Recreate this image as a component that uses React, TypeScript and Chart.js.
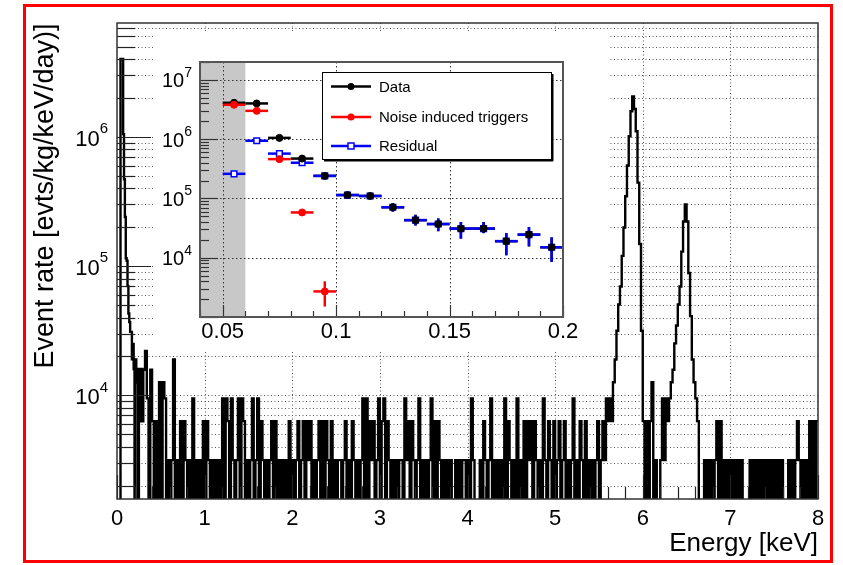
import React, { useEffect, useRef } from 'react';
import { Chart, registerables } from 'chart.js';

Chart.register(...registerables);

const FONT = '"Liberation Sans", Arial, Helvetica, sans-serif';

// ---------------- main spectrum ----------------
const X_MIN = 0;
const X_MAX = 8;
const Y_MIN = 1580;
const Y_MAX = 7.6e6;
const xTickLabels = ['0', '1', '2', '3', '4', '5', '6', '7', '8'];
const yTickExponents = [4, 5, 6];
const xAxisTitle = 'Energy [keV]';
const yAxisTitle = 'Event rate [evts/kg/keV/day)]';

// 0.00 - 0.30 keV, 0.01 keV bins (event rate)
const LOW_BIN_WIDTH = 0.01;
const lowEnergyRates = [
  0, 0, 0, 0, 4.0e6, 4.0e6, 4.0e6, 1.05e6, 4.7e5, 2.4e5,
  1.15e5, 1.1e5, 7.0e4, 4.3e4, 3.7e4, 3.1e4, 3.1e4, 1.9e4, 2.5e4, 1.6e4,
  0, 1.9e4, 1.26e4, 1.6e4, 0, 1.26e4, 1.6e4, 6.3e3, 1.6e4, 6.3e3,
];

// 0.30 - 8.00 keV, 0.02 keV bins (counts; one count = RATE_PER_COUNT)
const SPEC_START = 0.3;
const SPEC_BIN_WIDTH = 0.02;
const RATE_PER_COUNT = 3160;
const EMPTY_BIN = 100; // empty bins fall below the axis floor
const spectrumCounts = [
  5, 7, 3, 0, 5, 2, 0, 2, 0, 4, // 0.30
  0, 4, 3, 0, 1, 0, 1, 6, 0, 1, // 0.50
  0, 2, 0, 2, 1, 0, 1, 0, 3, 0, // 0.70
  1, 0, 1, 0, 2, 0, 2, 1, 0, 1, // 0.90
  0, 1, 0, 1, 0, 3, 0, 3, 2, 0, // 1.10
  3, 1, 0, 1, 3, 0, 3, 2, 0, 1, // 1.30
  0, 1, 3, 0, 1, 3, 0, 2, 1, 0, // 1.50
  1, 0, 1, 2, 0, 2, 0, 1, 0, 1, // 1.70
  0, 1, 0, 2, 0, 1, 0, 1, 2, 0, // 1.90
  1, 2, 0, 2, 1, 2, 0, 1, 0, 1, // 2.10
  2, 0, 2, 0, 2, 1, 0, 2, 0, 1, // 2.30
  0, 1, 1, 0, 1, 2, 0, 1, 0, 2, // 2.50
  1, 0, 1, 0, 1, 3, 0, 3, 0, 2, // 2.70
  1, 2, 0, 1, 3, 0, 2, 3, 0, 2, // 2.90
  1, 0, 1, 0, 1, 0, 1, 1, 0, 3, // 3.10
  1, 2, 0, 2, 1, 0, 1, 3, 0, 1, // 3.30
  0, 1, 0, 1, 3, 0, 2, 0, 2, 1, // 3.50
  0, 1, 0, 1, 0, 1, 0, 0, 1, 0, // 3.70
  1, 0, 1, 1, 0, 1, 0, 3, 1, 0, // 3.90
  0, 0, 1, 0, 2, 1, 0, 1, 3, 0, // 4.10
  1, 0, 1, 0, 1, 0, 3, 0, 2, 1, // 4.30
  0, 1, 0, 3, 0, 1, 0, 2, 0, 2, // 4.50
  1, 2, 0, 2, 1, 0, 1, 0, 3, 1, // 4.70
  0, 2, 1, 0, 2, 0, 1, 2, 0, 1, // 4.90
  2, 0, 1, 0, 1, 3, 0, 1, 0, 2, // 5.10
  1, 0, 2, 0, 1, 0, 1, 0, 1, 2, // 5.30
  0, 1, 2, 1, 3, 2, 3, 2, 4, 6, // 5.50
  10, 16, 22, 38, 63, 110, 190, 320, 500, 650, // 5.70
  520, 350, 140, 47, 10, 2, 0, 2, 0, 2, // 5.90
  4, 0, 1, 0, 0, 1, 3, 1, 3, 2, // 6.10
  3, 4, 5, 8, 11, 16, 22, 41, 70, 95, // 6.30
  70, 28, 13, 6, 4, 3, 2, 0, 0, 0, // 6.50
  1, 0, 1, 0, 1, 0, 1, 2, 0, 2, // 6.70
  0, 1, 0, 1, 0, 1, 0, 1, 0, 1, // 6.90
  0, 1, 0, 0, 0, 0, 1, 0, 1, 0, // 7.10
  1, 0, 1, 0, 1, 0, 1, 0, 1, 0, // 7.30
  1, 0, 1, 0, 1, 0, 0, 0, 1, 0, // 7.50
  1, 0, 1, 2, 1, 0, 1, 0, 1, 0, // 7.70
  2, 0, 2, 0, 2, // 7.90
];

// ---------------- inset ----------------
const INSET_X_MIN = 0.04;
const INSET_X_MAX = 0.2;
const INSET_Y_MIN = 1e3;
const INSET_Y_MAX = 2e7;
const insetXTickLabels = ['0.05', '0.1', '0.15', '0.2'];
const insetYTickExponents = [4, 5, 6, 7];
const thresholdBand = [0.04, 0.06];
const BIN_HALF_WIDTH = 0.005;

const dataEnergy = [0.055, 0.065, 0.075, 0.085, 0.095, 0.105, 0.115, 0.125, 0.135, 0.145, 0.155, 0.165, 0.175, 0.185, 0.195];
const dataRate = [4.1e6, 4.0e6, 1.05e6, 4.7e5, 2.4e5, 1.14e5, 1.1e5, 7.1e4, 4.3e4, 3.7e4, 3.1e4, 3.1e4, 1.9e4, 2.45e4, 1.5e4];
const dataLow = [4.0e6, 3.9e6, 1.0e6, 4.5e5, 2.25e5, 1.05e5, 1.0e5, 6.0e4, 3.5e4, 2.8e4, 2.1e4, 2.6e4, 1.1e4, 1.55e4, 8.5e3];
const dataHigh = [4.2e6, 4.1e6, 1.1e6, 4.9e5, 2.55e5, 1.23e5, 1.2e5, 8.3e4, 5.3e4, 4.6e4, 4.0e4, 4.0e4, 2.6e4, 3.3e4, 2.2e4];

const noiseEnergy = [0.055, 0.065, 0.075, 0.085, 0.095];
const noiseRate = [3.8e6, 3.0e6, 4.6e5, 5.8e4, 2.7e3];
const noiseLow = [3.7e6, 2.9e6, 4.4e5, 5.4e4, 1.5e3];
const noiseHigh = [3.9e6, 3.1e6, 4.8e5, 6.2e4, 4.0e3];

const residualEnergy = dataEnergy;
const residualRate = [2.6e5, 9.4e5, 5.7e5, 4.0e5, 2.4e5, 1.14e5, 1.1e5, 7.1e4, 4.3e4, 3.7e4, 3.1e4, 3.1e4, 1.9e4, 2.45e4, 1.5e4];
const residualLow = [2.4e5, 8.9e5, 5.3e5, 3.7e5, 2.25e5, 1.05e5, 1.0e5, 6.0e4, 3.5e4, 2.8e4, 2.1e4, 2.6e4, 1.1e4, 1.55e4, 8.5e3];
const residualHigh = [2.8e5, 1.0e6, 6.1e5, 4.3e5, 2.55e5, 1.23e5, 1.2e5, 8.3e4, 5.3e4, 4.6e4, 4.0e4, 4.0e4, 2.6e4, 3.3e4, 2.2e4];

const legendLabels = ['Data', 'Noise induced triggers', 'Residual'];
const COLORS = { data: '#000000', noise: '#ff0000', residual: '#0000ff' };

// ---------------- helpers ----------------
function line(ctx: CanvasRenderingContext2D, x1: number, y1: number, x2: number, y2: number) {
  ctx.beginPath();
  ctx.moveTo(x1, y1);
  ctx.lineTo(x2, y2);
  ctx.stroke();
}

function drawPow10(ctx: CanvasRenderingContext2D, exp: number, right: number, y: number, base: number, sup: number, dyBase: number, dySup: number) {
  ctx.save();
  ctx.fillStyle = '#000';
  ctx.textBaseline = 'middle';
  ctx.textAlign = 'left';
  ctx.font = `${sup}px ${FONT}`;
  const es = String(exp);
  const w2 = ctx.measureText(es).width;
  ctx.font = `${base}px ${FONT}`;
  const w1 = ctx.measureText('10').width;
  ctx.fillText('10', right - w2 - w1, y + dyBase);
  ctx.font = `${sup}px ${FONT}`;
  ctx.fillText(es, right - w2, y + dySup);
  ctx.restore();
}

function buildHistogram() {
  const pts: { x: number; y: number }[] = [];
  lowEnergyRates.forEach((r, i) => pts.push({ x: i * LOW_BIN_WIDTH, y: r > 0 ? r : EMPTY_BIN }));
  spectrumCounts.forEach((c, i) => pts.push({ x: SPEC_START + i * SPEC_BIN_WIDTH, y: c > 0 ? c * RATE_PER_COUNT : EMPTY_BIN }));
  const last = spectrumCounts[spectrumCounts.length - 1];
  pts.push({ x: X_MAX, y: last > 0 ? last * RATE_PER_COUNT : EMPTY_BIN });
  return pts;
}

const mainDecor = {
  id: 'mainDecor',
  beforeDraw(chart: any) {
    const { ctx, width, height } = chart;
    ctx.save();
    ctx.fillStyle = '#fff';
    ctx.fillRect(0, 0, width, height);
    ctx.restore();
  },
  beforeDatasetsDraw(chart: any) {
    const { ctx, chartArea: a, scales } = chart;
    const xs = scales.x, ys = scales.y;
    ctx.save();
    ctx.strokeStyle = '#555';
    ctx.lineWidth = 1;
    ctx.setLineDash([1, 2.5]);
    for (let e = 3; e <= 6; e++) {
      for (let k = 1; k <= 9; k++) {
        const v = k * Math.pow(10, e);
        if (v < Y_MIN || v > Y_MAX) continue;
        const py = Math.round(ys.getPixelForValue(v)) + 0.5;
        line(ctx, a.left, py, a.right, py);
      }
    }
    xTickLabels.forEach((l) => {
      const v = parseFloat(l);
      if (v <= X_MIN || v >= X_MAX) return;
      const px = Math.round(xs.getPixelForValue(v)) + 0.5;
      line(ctx, px, a.top, px, a.bottom);
    });
    ctx.restore();
  },
  afterDatasetsDraw(chart: any) {
    const { ctx, chartArea: a, scales } = chart;
    const xs = scales.x, ys = scales.y;
    ctx.save();
    ctx.strokeStyle = '#222';
    ctx.lineWidth = 1.2;
    for (let e = 3; e <= 6; e++) {
      for (let k = 1; k <= 9; k++) {
        const v = k * Math.pow(10, e);
        if (v < Y_MIN || v > Y_MAX) continue;
        const py = Math.round(ys.getPixelForValue(v)) + 0.5;
        line(ctx, a.left, py, a.left + (k === 1 ? 34 : 18), py);
      }
    }
    for (let i = 0; i <= 40; i++) {
      const v = i * 0.2;
      const px = Math.round(xs.getPixelForValue(v)) + 0.5;
      const major = i % 5 === 0;
      line(ctx, px, a.bottom, px, a.bottom - (major ? 24 : 12));
    }
    ctx.strokeStyle = '#333';
    ctx.lineWidth = 1.5;
    ctx.strokeRect(a.left, a.top, a.right - a.left, a.bottom - a.top);
    ctx.fillStyle = '#000';
    ctx.font = `22px ${FONT}`;
    ctx.textAlign = 'center';
    ctx.textBaseline = 'top';
    xTickLabels.forEach((l) => {
      const px = xs.getPixelForValue(parseFloat(l));
      ctx.fillText(l, px, a.bottom + 9);
    });
    yTickExponents.forEach((e) => {
      const py = ys.getPixelForValue(Math.pow(10, e));
      drawPow10(ctx, e, a.left - 9, py, 22, 15, 3, -8);
    });
    ctx.font = `26px ${FONT}`;
    ctx.textAlign = 'right';
    ctx.textBaseline = 'alphabetic';
    ctx.fillText(xAxisTitle, a.right, 551);
    ctx.save();
    ctx.translate(53, 196);
    ctx.rotate(-Math.PI / 2);
    ctx.textAlign = 'center';
    ctx.font = `27px ${FONT}`;
    ctx.fillText(yAxisTitle, 0, 0);
    ctx.restore();
    ctx.restore();
  },
};

const insetDecor = {
  id: 'insetDecor',
  beforeDraw(chart: any) {
    const { ctx, width, height } = chart;
    ctx.save();
    ctx.fillStyle = '#fff';
    ctx.fillRect(0, 0, width, height);
    ctx.restore();
  },
  beforeDatasetsDraw(chart: any) {
    const { ctx, chartArea: a, scales } = chart;
    const xs = scales.x, ys = scales.y;
    ctx.save();
    const bx1 = xs.getPixelForValue(thresholdBand[0]);
    const bx2 = xs.getPixelForValue(thresholdBand[1]);
    ctx.fillStyle = '#c8c8c8';
    ctx.fillRect(bx1, a.top, bx2 - bx1, a.bottom - a.top);
    ctx.strokeStyle = '#333';
    ctx.lineWidth = 1;
    ctx.setLineDash([1.5, 2.5]);
    insetYTickExponents.forEach((e) => {
      const py = Math.round(ys.getPixelForValue(Math.pow(10, e))) + 0.5;
      line(ctx, a.left, py, a.right, py);
    });
    insetXTickLabels.forEach((l) => {
      const v = parseFloat(l);
      if (v >= INSET_X_MAX) return;
      const px = Math.round(xs.getPixelForValue(v)) + 0.5;
      line(ctx, px, a.top, px, a.bottom);
    });
    ctx.setLineDash([]);
    ctx.lineWidth = 2.5;
    chart.data.datasets.forEach((ds: any) => {
      ctx.strokeStyle = ds.barColor;
      ds.data.forEach((p: any, i: number) => {
        const px1 = xs.getPixelForValue(p.x - BIN_HALF_WIDTH);
        const px2 = xs.getPixelForValue(p.x + BIN_HALF_WIDTH);
        const px = xs.getPixelForValue(p.x);
        const py = ys.getPixelForValue(p.y);
        line(ctx, px1, py, px2, py);
        line(ctx, px, ys.getPixelForValue(ds.errLow[i]), px, ys.getPixelForValue(ds.errHigh[i]));
      });
    });
    ctx.restore();
  },
  afterDatasetsDraw(chart: any) {
    const { ctx, chartArea: a, scales } = chart;
    const xs = scales.x, ys = scales.y;
    ctx.save();
    ctx.strokeStyle = '#333';
    ctx.lineWidth = 1.2;
    for (let e = 3; e <= 7; e++) {
      for (let k = 1; k <= 9; k++) {
        const v = k * Math.pow(10, e);
        if (v < INSET_Y_MIN || v > INSET_Y_MAX) continue;
        const py = Math.round(ys.getPixelForValue(v)) + 0.5;
        line(ctx, a.left, py, a.left + (k === 1 ? 18 : 9), py);
      }
    }
    for (let i = 4; i <= 20; i++) {
      const v = i * 0.01;
      const px = Math.round(xs.getPixelForValue(v)) + 0.5;
      line(ctx, px, a.bottom, px, a.bottom - (i % 5 === 0 ? 12 : 6));
    }
    ctx.strokeStyle = '#555';
    ctx.lineWidth = 2;
    ctx.strokeRect(a.left, a.top, a.right - a.left, a.bottom - a.top);
    ctx.fillStyle = '#000';
    ctx.font = `22px ${FONT}`;
    ctx.textAlign = 'center';
    ctx.textBaseline = 'top';
    insetXTickLabels.forEach((l) => {
      ctx.fillText(l, xs.getPixelForValue(parseFloat(l)), a.bottom + 4);
    });
    insetYTickExponents.forEach((e) => {
      drawPow10(ctx, e, a.left - 8, ys.getPixelForValue(Math.pow(10, e)), 20, 14, 2, -7);
    });
    // legend
    const lx = a.left + 122;
    const ly = a.top + 10;
    const lw = 229;
    const lh = 87;
    ctx.fillStyle = '#fff';
    ctx.fillRect(lx, ly, lw, lh);
    ctx.strokeStyle = '#000';
    ctx.lineWidth = 1;
    ctx.strokeRect(lx + 0.5, ly + 0.5, lw, lh);
    ctx.lineWidth = 2;
    line(ctx, lx + lw + 1.5, ly + 2, lx + lw + 1.5, ly + lh + 2);
    line(ctx, lx + 2, ly + lh + 1.5, lx + lw + 2, ly + lh + 1.5);
    const rows = [14.5, 45, 74];
    const cols = [COLORS.data, COLORS.noise, COLORS.residual];
    legendLabels.forEach((lab, i) => {
      const y = ly + rows[i];
      ctx.strokeStyle = cols[i];
      ctx.lineWidth = 2.5;
      line(ctx, lx + 9, y, lx + 49, y);
      if (i < 2) {
        ctx.fillStyle = cols[i];
        ctx.beginPath();
        ctx.arc(lx + 29, y, 3.5, 0, Math.PI * 2);
        ctx.fill();
      } else {
        ctx.fillStyle = '#fff';
        ctx.lineWidth = 1.5;
        ctx.fillRect(lx + 26, y - 3, 6, 6);
        ctx.strokeRect(lx + 26, y - 3, 6, 6);
      }
      ctx.fillStyle = '#000';
      ctx.font = `15px ${FONT}`;
      ctx.textAlign = 'left';
      ctx.textBaseline = 'middle';
      ctx.fillText(lab, lx + 57, y + 1);
    });
    ctx.restore();
  },
};

export default function App() {
  const mainRef = useRef<HTMLCanvasElement | null>(null);
  const insetRef = useRef<HTMLCanvasElement | null>(null);

  useEffect(() => {
    const hiddenAxis = {
      ticks: { display: false },
      grid: { display: false, drawTicks: false },
      border: { display: false },
    };
    const main = new Chart(mainRef.current as HTMLCanvasElement, {
      type: 'line',
      data: {
        datasets: [
          {
            data: buildHistogram(),
            borderColor: '#000',
            borderWidth: 2.4,
            pointRadius: 0,
            stepped: 'before',
            fill: false,
            tension: 0,
          } as any,
        ],
      },
      options: {
        animation: false,
        responsive: false,
        events: [],
        layout: { padding: { left: 117, right: 25, top: 23, bottom: 66 } },
        plugins: { legend: { display: false }, tooltip: { enabled: false } },
        scales: {
          x: { type: 'linear', min: X_MIN, max: X_MAX, ...hiddenAxis },
          y: { type: 'logarithmic', min: Y_MIN, max: Y_MAX, ...hiddenAxis },
        } as any,
      },
      plugins: [mainDecor],
    });

    const inset = new Chart(insetRef.current as HTMLCanvasElement, {
      type: 'scatter',
      data: {
        datasets: [
          {
            label: legendLabels[0],
            data: dataEnergy.map((x, i) => ({ x, y: dataRate[i] })),
            errLow: dataLow,
            errHigh: dataHigh,
            barColor: COLORS.data,
            pointStyle: 'circle',
            pointRadius: 3.5,
            pointBackgroundColor: COLORS.data,
            pointBorderColor: COLORS.data,
            pointBorderWidth: 1,
            showLine: false,
            order: 2,
          } as any,
          {
            label: legendLabels[1],
            data: noiseEnergy.map((x, i) => ({ x, y: noiseRate[i] })),
            errLow: noiseLow,
            errHigh: noiseHigh,
            barColor: COLORS.noise,
            pointStyle: 'circle',
            pointRadius: 3.5,
            pointBackgroundColor: COLORS.noise,
            pointBorderColor: COLORS.noise,
            pointBorderWidth: 1,
            showLine: false,
            order: 1,
          } as any,
          {
            label: legendLabels[2],
            data: residualEnergy.map((x, i) => ({ x, y: residualRate[i] })),
            errLow: residualLow,
            errHigh: residualHigh,
            barColor: COLORS.residual,
            pointStyle: 'rect',
            pointRadius: 4,
            pointBackgroundColor: '#ffffff',
            pointBorderColor: COLORS.residual,
            pointBorderWidth: 1.5,
            showLine: false,
            order: 3,
          } as any,
        ],
      },
      options: {
        animation: false,
        responsive: false,
        events: [],
        layout: { padding: { left: 45, right: 45, top: 31, bottom: 35 } },
        plugins: { legend: { display: false }, tooltip: { enabled: false } },
        scales: {
          x: { type: 'linear', min: INSET_X_MIN, max: INSET_X_MAX, ...hiddenAxis },
          y: { type: 'logarithmic', min: INSET_Y_MIN, max: INSET_Y_MAX, ...hiddenAxis },
        } as any,
      },
      plugins: [insetDecor],
    });

    return () => {
      main.destroy();
      inset.destroy();
    };
  }, []);

  return (
    <div style={{ position: 'fixed', left: 0, top: 0, width: 843, height: 565, background: '#fff', overflow: 'hidden' }}>
      <canvas ref={mainRef} width={843} height={565} style={{ position: 'absolute', left: 0, top: 0, width: 843, height: 565 }} />
      <canvas ref={insetRef} width={453} height={321} style={{ position: 'absolute', left: 155, top: 31, width: 453, height: 321 }} />
      <div
        style={{
          position: 'absolute',
          left: 23,
          top: 4,
          width: 810,
          height: 559,
          boxSizing: 'border-box',
          border: '3px solid #ff0000',
          pointerEvents: 'none',
        }}
      />
    </div>
  );
}
